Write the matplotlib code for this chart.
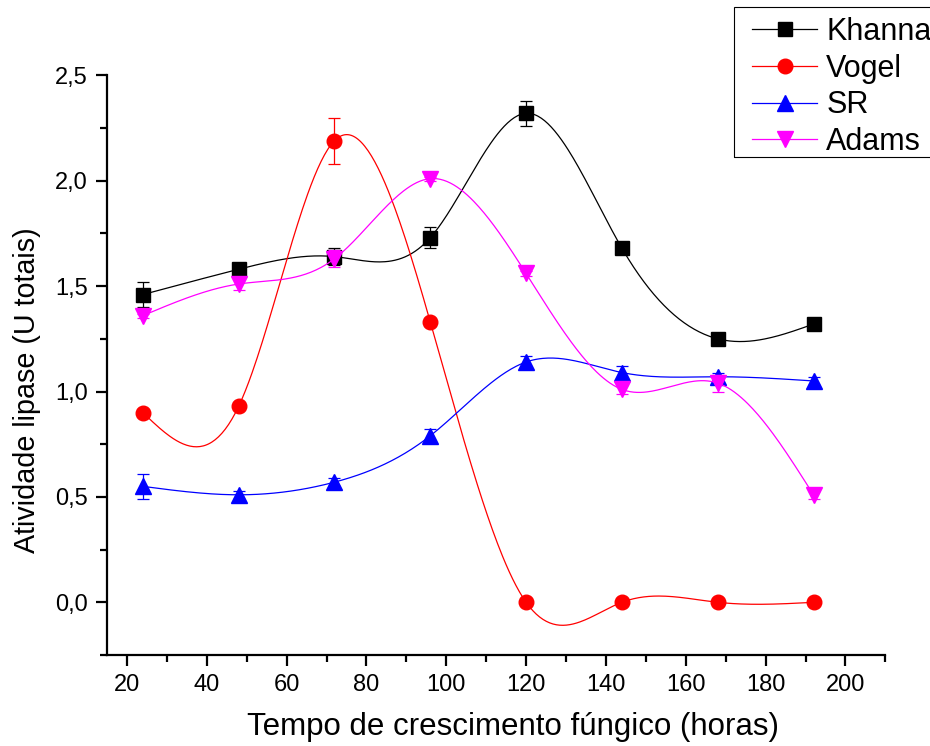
import numpy as np
import matplotlib
matplotlib.use('Agg')
import matplotlib.pyplot as plt
from matplotlib.patches import Rectangle
from matplotlib.ticker import MultipleLocator, FuncFormatter

# Data
hours = [24, 48, 72, 96, 120, 144, 168, 192]

khanna = [1.46, 1.58, 1.64, 1.73, 2.32, 1.68, 1.25, 1.32]
khanna_err = [0.06, 0.03, 0.04, 0.05, 0.06, 0.01, 0.01, 0.01]

vogel = [0.90, 0.93, 2.19, 1.33, 0.00, 0.00, 0.00, 0.00]
vogel_err = [0.01, 0.01, 0.11, 0.02, 0.00, 0.00, 0.00, 0.00]

sr = [0.55, 0.51, 0.57, 0.79, 1.14, 1.09, 1.07, 1.05]
sr_err = [0.06, 0.02, 0.02, 0.03, 0.03, 0.03, 0.02, 0.02]

adams = [1.36, 1.51, 1.63, 2.01, 1.56, 1.01, 1.04, 0.51]
adams_err = [0.01, 0.03, 0.04, 0.01, 0.01, 0.02, 0.04, 0.02]


def natural_spline(x, y, n=400):
    # natural cubic spline through the points (like Origin's spline connect)
    x = np.asarray(x, float)
    y = np.asarray(y, float)
    k = len(x)
    h = np.diff(x)
    A = np.zeros((k, k))
    b = np.zeros(k)
    A[0, 0] = A[-1, -1] = 1
    for i in range(1, k - 1):
        A[i, i - 1] = h[i - 1]
        A[i, i] = 2 * (h[i - 1] + h[i])
        A[i, i + 1] = h[i]
        b[i] = 6 * ((y[i + 1] - y[i]) / h[i] - (y[i] - y[i - 1]) / h[i - 1])
    M = np.linalg.solve(A, b)
    xs = np.linspace(x[0], x[-1], n)
    idx = np.clip(np.searchsorted(x, xs) - 1, 0, k - 2)
    x0, x1 = x[idx], x[idx + 1]
    hh = x1 - x0
    t0 = x1 - xs
    t1 = xs - x0
    ys = (M[idx] * t0**3 + M[idx + 1] * t1**3) / (6 * hh) \
        + (y[idx] / hh - M[idx] * hh / 6) * t0 \
        + (y[idx + 1] / hh - M[idx + 1] * hh / 6) * t1
    return xs, ys


plt.rcParams['font.family'] = ['Liberation Sans', 'DejaVu Sans']

W, H = 930, 746
fig = plt.figure(figsize=(W / 100, H / 100), dpi=100)
ax = fig.add_axes([0.115, 0.122, 0.837, 0.777])

series = [
    ('Khanna', khanna, khanna_err, 'black', 's', 9.5),
    ('Vogel', vogel, vogel_err, 'red', 'o', 10.5),
    ('SR', sr, sr_err, 'blue', '^', 11),
    ('Adams', adams, adams_err, 'magenta', 'v', 11),
]

handles = []
for name, vals, errs, color, marker, ms in series:
    xs, ys = natural_spline(hours, vals)
    ax.plot(xs, ys, color=color, lw=0.9)
    ax.errorbar(hours, vals, yerr=errs, fmt='none', ecolor=color,
                elinewidth=0.9, capsize=4, capthick=0.9)
    ax.plot(hours, vals, linestyle='none', marker=marker, markersize=ms,
            color=color, markeredgecolor=color)
    h, = ax.plot([], [], color=color, lw=0.9, marker=marker, markersize=ms,
                 markeredgecolor=color, label=name)
    handles.append(h)

ax.set_xlim(15, 210)
ax.set_ylim(-0.25, 2.5)
ax.xaxis.set_minor_locator(MultipleLocator(10))
ax.yaxis.set_major_locator(MultipleLocator(0.5))
ax.yaxis.set_minor_locator(MultipleLocator(0.25))
ax.yaxis.set_major_formatter(FuncFormatter(lambda v, p: f'{v:.1f}'.replace('.', ',')))
ax.set_xticks(range(20, 201, 20))

for s in ['top', 'right']:
    ax.spines[s].set_visible(False)
for s in ['left', 'bottom']:
    ax.spines[s].set_linewidth(1.6)

ax.tick_params(which='major', direction='out', length=8, width=1.6, labelsize=17, pad=6)
ax.tick_params(which='minor', direction='out', length=5, width=1.6)

ax.set_xlabel('Tempo de crescimento fúngico (horas)', fontsize=22.5)
ax.set_ylabel('Atividade lipase (U totais)', fontsize=20.7)
ax.xaxis.set_label_coords(0.521, -0.098)
ax.yaxis.set_label_coords(-0.085, 0.457)

# legend box drawn separately so the padding matches the original
fig.patches.append(Rectangle((734 / W, 1 - 157 / H), 0.3, 150 / H,
                             transform=fig.transFigure, fill=False,
                             edgecolor='black', linewidth=0.8))
fig.legend(handles=handles, loc='upper left',
           bbox_to_anchor=(752 / W, 1 - 17 / H), fontsize=22,
           frameon=False, handlelength=2.13, borderpad=0,
           labelspacing=0.22, handletextpad=0.3, borderaxespad=0)

fig.savefig('out.png', dpi=100)
